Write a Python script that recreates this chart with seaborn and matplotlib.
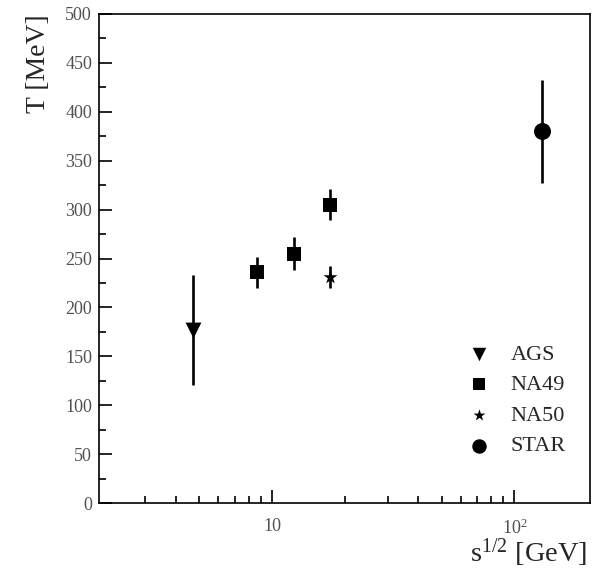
import matplotlib
matplotlib.use("Agg")
import matplotlib.pyplot as plt
import seaborn as sns
import pandas as pd
from matplotlib.ticker import FixedLocator, FixedFormatter, MultipleLocator

# ---- data ----
experiments = ["AGS", "NA49", "NA49", "NA49", "NA50", "STAR"]
sqrt_s = [4.7, 8.7, 12.3, 17.3, 17.3, 130.0]
temperature = [177, 236, 255, 305, 231, 380]
temp_err = [56, 16, 17, 16, 11, 53]
legend_order = ["AGS", "NA49", "NA50", "STAR"]
marker_map = {"AGS": "v", "NA49": "s", "NA50": "*", "STAR": "o"}
size_map = {"AGS": 130, "NA49": 110, "NA50": 110, "STAR": 150}
x_tick_pos = [10, 100]
x_tick_labels = ["10", "$10^{2}$"]
y_ticks = [0, 50, 100, 150, 200, 250, 300, 350, 400, 450, 500]

df = pd.DataFrame({"exp": experiments, "sqrt_s": sqrt_s, "T": temperature, "err": temp_err})

sns.set_style("white")
plt.rcParams["font.family"] = ["Liberation Serif", "DejaVu Serif"]
plt.rcParams["mathtext.fontset"] = "custom"
plt.rcParams["mathtext.rm"] = "Liberation Serif"
plt.rcParams["mathtext.it"] = "Liberation Serif:italic"

fig = plt.figure(figsize=(6.0, 5.69), dpi=100)
ax = fig.add_axes([99/600, 1-503/569, (590-99)/600, (503-14)/569])

ax.errorbar(df["sqrt_s"], df["T"], yerr=df["err"], fmt="none", ecolor="black",
            elinewidth=1.9, capsize=0, zorder=1)
for name in legend_order:
    sub = df[df["exp"] == name]
    sns.scatterplot(data=sub, x="sqrt_s", y="T", marker=marker_map[name], s=size_map[name],
                    color="black", linewidth=0, label=name, ax=ax, zorder=3)

ax.set_xscale("log")
ax.set_xlim(1.93, 205)
ax.set_ylim(0, 500)

ax.xaxis.set_major_locator(FixedLocator(x_tick_pos))
ax.xaxis.set_major_formatter(FixedFormatter(x_tick_labels))
minor_x = [v for v in range(3, 10)] + [v * 10 for v in range(2, 10)]
ax.xaxis.set_minor_locator(FixedLocator(minor_x))
ax.xaxis.set_minor_formatter(FixedFormatter([""] * len(minor_x)))
ax.yaxis.set_major_locator(FixedLocator(y_ticks))
ax.yaxis.set_minor_locator(MultipleLocator(25))

for s in ax.spines.values():
    s.set_visible(True)
    s.set_color("black")
    s.set_linewidth(1.2)

ax.tick_params(axis="both", which="both", bottom=True, left=True, top=False, right=False)
ax.tick_params(axis="both", which="major", direction="in", length=9.5, width=1.2,
               color="black", labelcolor="#505050", labelsize=13)
ax.tick_params(axis="both", which="minor", direction="in", length=5, width=1.2, color="black")
ax.tick_params(axis="x", which="major", pad=11)
ax.tick_params(axis="y", which="major", pad=5)

ax.set_xlabel("s$^{1/2}$ [GeV]", fontsize=20.5, loc="right", va="top")
ax.xaxis.set_label_coords(0.994, -0.068)
ax.set_ylabel("T [MeV]", fontsize=20, loc="top", labelpad=10)

handles, labels = ax.get_legend_handles_labels()
leg = ax.legend(handles, labels, loc="upper left", bbox_to_anchor=(455/600, 1-333/569),
                bbox_transform=fig.transFigure, frameon=False, fontsize=16,
                labelspacing=0.45, handlelength=1.2, handletextpad=0.8, borderpad=0,
                markerscale=0.85)

fig.savefig("out.png", dpi=100)
